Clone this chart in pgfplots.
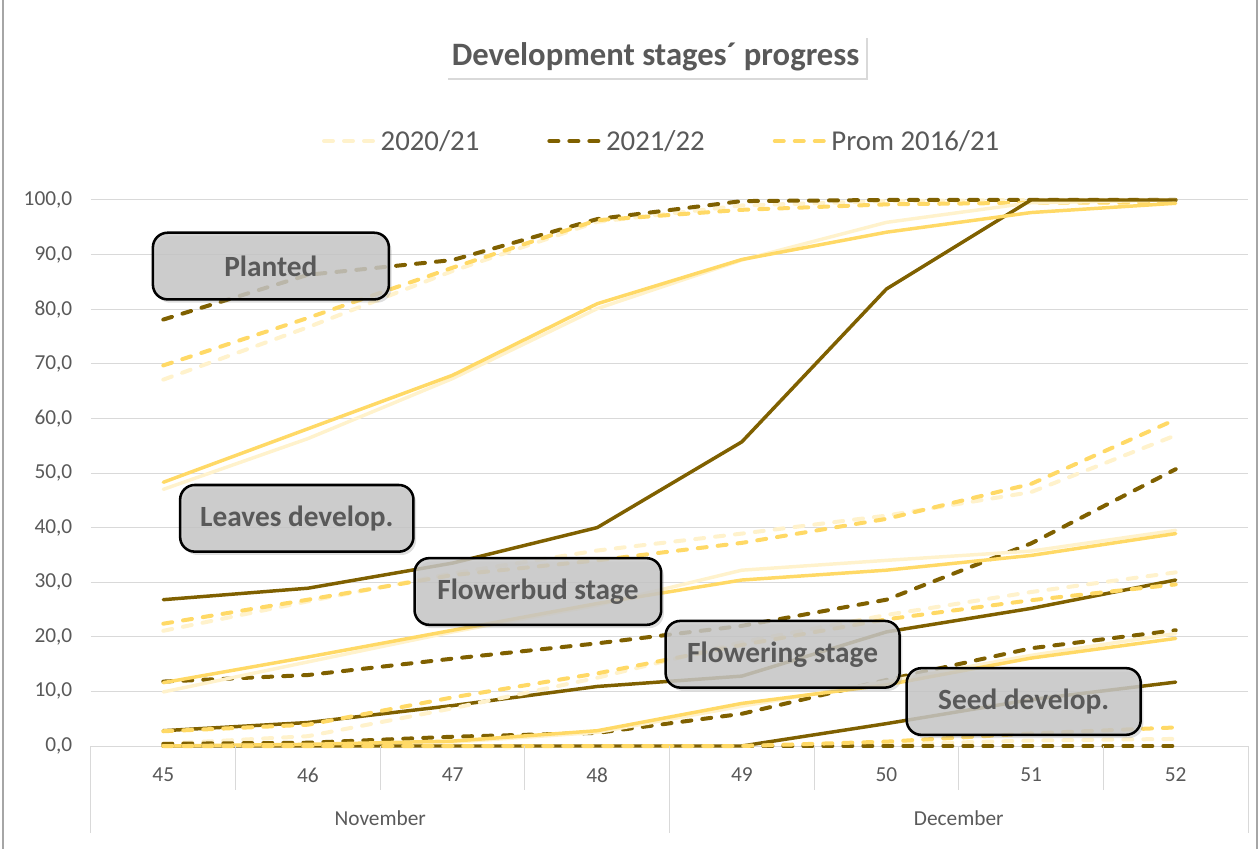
\documentclass[border=0pt]{standalone}
\usepackage{fontspec}
\setmainfont{Carlito}
\usepackage{pgfplots}
\pgfplotsset{compat=1.18}
\usetikzlibrary{shadows}
\definecolor{cdark}{HTML}{7F6000}
\definecolor{cgold}{HTML}{FFD966}
\definecolor{clight}{HTML}{FFF2CC}
\definecolor{ctext}{HTML}{595959}
\definecolor{cgrid}{HTML}{D9D9D9}
\definecolor{cbox}{HTML}{C8C8C8}
\definecolor{cframe}{HTML}{A6A6A6}
\pgfplotsset{
  ds/.style={line width=3pt, line cap=round, dash pattern=on 6.75pt off 8.25pt},
  sl/.style={line width=2.6pt, line join=round, line cap=round},
}
\tikzset{lbl/.style={draw=black, line width=1.9pt, rounded corners=11pt, fill=cbox, fill opacity=0.82, text opacity=1,
   minimum width=176pt, minimum height=50pt, font=\bfseries\fontsize{22}{26}\selectfont, text=ctext,
   drop shadow={opacity=0.25, shadow xshift=2pt, shadow yshift=-2.5pt}}}
\begin{document}
\begin{tikzpicture}
\begin{axis}[
  width=867.75pt, height=409.5pt, scale only axis,
  xmin=-0.5, xmax=7.5, ymin=0, ymax=100,
  xtick={0,1,2,3,4,5,6,7}, xticklabels={45,46,47,48,49,50,51,52},
  ytick={0,10,...,100},
  ymajorgrids, grid style={cgrid, line width=0.75pt},
  major tick length=0pt,
  axis line style={draw=none},
  clip=false,
  tick label style={font=\fontsize{16}{19}\selectfont, text=ctext},
  xticklabel style={anchor=center, yshift=-21.75pt},
  yticklabel style={xshift=-10.5pt, /pgf/number format/fixed, /pgf/number format/fixed zerofill, /pgf/number format/precision=1, /pgf/number format/use comma, /pgf/number format/assume math mode=true},
  legend columns=3,
  legend style={at={(0.4935,1.108)}, anchor=center, draw=none, fill=none, font=\fontsize{21.6}{26}\selectfont, text=ctext,
     /tikz/every even column/.append style={column sep=49pt}},
  legend image code/.code={\draw[#1] (0pt,0pt) -- (39pt,0pt);},
]
% Planted (dashed)
\addplot[ds, clight] coordinates {(0,67.1)(1,76.7)(2,87.0)(3,96.0)(4,99.0)(5,99.8)(6,100)(7,100)};
\addlegendentry{2020/21}
\addplot[ds, cdark] coordinates {(0,78.1)(1,86.3)(2,89.0)(3,96.5)(4,99.8)(5,100)(6,100)(7,100)};
\addlegendentry{2021/22}
\addplot[ds, cgold] coordinates {(0,69.7)(1,78.4)(2,87.6)(3,96.3)(4,98.2)(5,99.2)(6,99.5)(7,99.5)};
\addlegendentry{Prom 2016/21}
% Leaves (solid)
\addplot[sl, clight, forget plot] coordinates {(0,47.0)(1,56.3)(2,67.3)(3,80.1)(4,89.0)(5,95.9)(6,99.5)(7,100)};
\addplot[sl, cdark, forget plot] coordinates {(0,26.8)(1,28.9)(2,33.5)(3,40.0)(4,55.7)(5,83.7)(6,100)(7,100)};
\addplot[sl, cgold, forget plot] coordinates {(0,48.3)(1,58.1)(2,67.9)(3,81.0)(4,89.1)(5,94.1)(6,97.7)(7,99.4)};
% Flowerbud (dashed)
\addplot[ds, clight, forget plot] coordinates {(0,21.1)(1,26.5)(2,31.6)(3,35.8)(4,38.9)(5,42.2)(6,46.5)(7,56.9)};
\addplot[ds, cdark, forget plot] coordinates {(0,11.8)(1,13.0)(2,16.0)(3,18.8)(4,22.0)(5,26.8)(6,37.1)(7,50.7)};
\addplot[ds, cgold, forget plot] coordinates {(0,22.4)(1,26.8)(2,31.3)(3,34.0)(4,37.2)(5,41.6)(6,48.0)(7,59.8)};
% Flowering (solid)
\addplot[sl, clight, forget plot] coordinates {(0,9.9)(1,15.4)(2,20.9)(3,25.8)(4,32.2)(5,34.0)(6,35.7)(7,39.5)};
\addplot[sl, cdark, forget plot] coordinates {(0,2.8)(1,4.3)(2,7.4)(3,10.9)(4,12.8)(5,20.9)(6,25.2)(7,30.4)};
\addplot[sl, cgold, forget plot] coordinates {(0,11.6)(1,16.3)(2,21.2)(3,26.1)(4,30.4)(5,32.2)(6,34.9)(7,38.9)};
% dashed group E
\addplot[ds, clight, forget plot] coordinates {(0,0.4)(1,1.8)(2,6.9)(3,12.5)(4,19.0)(5,24.0)(6,28.2)(7,31.8)};
\addplot[ds, cdark, forget plot] coordinates {(0,0.4)(1,0.6)(2,1.7)(3,2.4)(4,5.9)(5,12.1)(6,17.9)(7,21.2)};
\addplot[ds, cgold, forget plot] coordinates {(0,2.7)(1,3.9)(2,8.9)(3,13.3)(4,18.5)(5,23.2)(6,26.7)(7,29.6)};
% solid group F
\addplot[sl, clight, forget plot] coordinates {(0,0)(1,0.2)(2,0.7)(3,2.5)(4,7.3)(5,11.8)(6,16.6)(7,20.6)};
\addplot[sl, cdark, forget plot] coordinates {(0,0)(1,0)(2,0)(3,0)(4,0)(5,4.1)(6,8.5)(7,11.7)};
\addplot[sl, cgold, forget plot] coordinates {(0,0)(1,0.3)(2,0.9)(3,2.8)(4,7.8)(5,11.2)(6,16.1)(7,19.7)};
% dashed group G
\addplot[ds, clight, forget plot] coordinates {(0,0)(1,0)(2,0)(3,0)(4,0)(5,0.3)(6,1.0)(7,1.3)};
\addplot[ds, cdark, forget plot] coordinates {(0,0)(1,0)(2,0)(3,0)(4,0)(5,0)(6,0)(7,0)};
\addplot[ds, cgold, forget plot] coordinates {(0,0)(1,0)(2,0)(3,0)(4,0)(5,0.8)(6,2.3)(7,3.4)};

% category separators
\pgfplotsinvokeforeach{0.5,1.5,2.5,4.5,5.5,6.5}{\draw[cgrid, line width=0.75pt] (axis cs:#1,0) -- ++(0pt,-33pt);}
\pgfplotsinvokeforeach{-0.5,3.5,7.5}{\draw[cgrid, line width=0.75pt] (axis cs:#1,0) -- ++(0pt,-65.25pt);}
\node[font=\fontsize{16}{19}\selectfont, text=ctext] at ([yshift=-54pt]axis cs:1.5,0) {November};
\node[font=\fontsize{16}{19}\selectfont, text=ctext] at ([yshift=-54pt]axis cs:5.5,0) {December};

% stage labels
\node[lbl, minimum width=177pt] at (axis cs:0.744,87.9) {Planted};
\node[lbl, minimum width=175pt] at (axis cs:0.923,41.7) {Leaves develop.};
\node[lbl, minimum width=185pt] at (axis cs:2.590,28.3) {Flowerbud stage};
\node[lbl, minimum width=175.5pt] at (axis cs:4.282,16.8) {Flowering stage};
\node[lbl, minimum width=175.5pt] at (axis cs:5.949,8.15) {Seed develop.};

% title
\node[fill=white, drop shadow={opacity=0.3, shadow xshift=1.5pt, shadow yshift=-2pt}, minimum width=315pt, minimum height=32pt, inner xsep=3pt,
  font=\bfseries\fontsize{24.5}{29}\selectfont, text=ctext] at (rel axis cs:0.488,1.263) {Development stages´ progress};

% frame
\draw[cframe, line width=1.5pt] (rel axis cs:-0.0761,-0.19) -- (rel axis cs:-0.0761,1.37);
\draw[cframe, line width=1.5pt] (rel axis cs:1.0074,-0.19) -- (rel axis cs:1.0074,1.37);
\coordinate (bbsw) at (rel axis cs:-0.07865,-0.18681);
\coordinate (bbne) at (rel axis cs:1.00864,1.36630);
\end{axis}
\pgfresetboundingbox
\path (bbsw) rectangle (bbne);
\end{tikzpicture}
\end{document}
